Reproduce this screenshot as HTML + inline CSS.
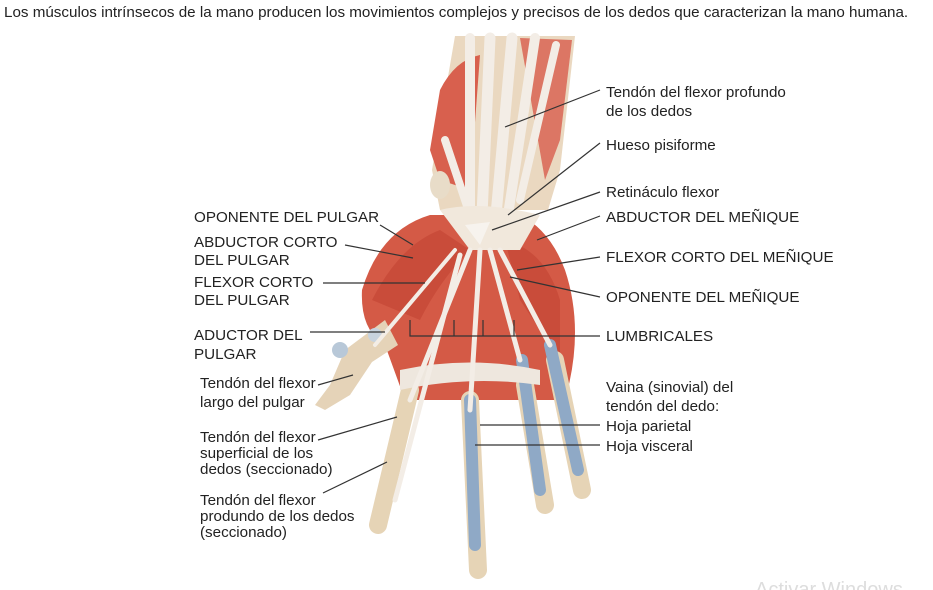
<!DOCTYPE html>
<html><head><meta charset="utf-8"><style>
body{margin:0;background:#fff;}
svg{display:block;font-family:"Liberation Sans",sans-serif;}
text{fill:#222;font-size:15.2px;}
</style></head><body>
<svg width="933" height="590" viewBox="0 0 933 590">
<text x="4" y="17" style="font-size:15.2px">Los músculos intrínsecos de la mano producen los movimientos complejos y precisos de los dedos que caracterizan la mano humana.</text>
<!-- forearm -->
<path d="M455 36 L575 36 L560 170 L548 210 L440 210 L432 170 Z" fill="#ead8c0"/>
<path d="M440 90 Q455 60 480 55 L470 190 L440 180 L430 150 Z" fill="#d8604e"/>
<path d="M520 38 L572 40 L560 140 L545 180 Z" fill="#dc7664"/>
<g stroke="#f3ede6" stroke-linecap="round">
<line x1="470" y1="38" x2="470" y2="215" stroke-width="10"/>
<line x1="490" y1="38" x2="482" y2="215" stroke-width="11"/>
<line x1="512" y1="38" x2="496" y2="215" stroke-width="11"/>
<line x1="535" y1="38" x2="508" y2="215" stroke-width="10"/>
<line x1="556" y1="45" x2="520" y2="200" stroke-width="8"/>
<line x1="445" y1="140" x2="470" y2="215" stroke-width="8"/>
</g>
<ellipse cx="440" cy="185" rx="10" ry="14" fill="#e8dcc8"/>
<!-- palm muscles -->
<path d="M430 215 Q380 230 362 290 Q360 330 385 345 L405 400 L565 400 Q585 330 565 270 Q550 230 520 215 Z" fill="#d45a46"/>
<path d="M440 230 Q400 245 372 300 L420 320 Q440 280 470 250 Z" fill="#c94c3a"/>
<path d="M505 240 Q545 250 560 300 L560 360 L520 300 Z" fill="#c94c3a"/>
<path d="M440 210 Q480 200 540 215 L520 250 L470 250 Z" fill="#f1e8dc"/>
<!-- thumb -->
<path d="M385 320 L345 350 L330 385 L315 405 L325 410 L350 395 L372 362 L398 345 Z" fill="#e5d3b8"/>
<circle cx="340" cy="350" r="8" fill="#b8c8d8"/>
<circle cx="375" cy="335" r="7" fill="#c8d3de"/>
<!-- fingers bones -->
<g stroke="#e6d4b6" stroke-linecap="round" stroke-width="18">
<line x1="410" y1="390" x2="378" y2="525"/>
<line x1="470" y1="400" x2="478" y2="570"/>
<line x1="525" y1="385" x2="545" y2="505"/>
<line x1="555" y1="360" x2="582" y2="490"/>
</g>
<g stroke="#8fa9c6" stroke-linecap="round" stroke-width="12">
<line x1="470" y1="400" x2="475" y2="545"/>
<line x1="522" y1="360" x2="540" y2="490"/>
<line x1="550" y1="345" x2="578" y2="470"/>
</g>
<path d="M400 370 Q470 355 540 370 L540 385 Q470 375 400 390 Z" fill="#eee7de"/>
<!-- palm tendons -->
<g stroke="#f3ede6" stroke-linecap="round" stroke-width="5">
<line x1="470" y1="250" x2="410" y2="400"/>
<line x1="480" y1="250" x2="470" y2="410"/>
<line x1="490" y1="250" x2="520" y2="360"/>
<line x1="500" y1="250" x2="550" y2="345"/>
<line x1="460" y1="255" x2="395" y2="500"/>
<line x1="455" y1="250" x2="375" y2="345" stroke-width="4"/>
</g>
<path d="M465 225 L490 222 L480 245 Z" fill="#f7f3ee"/>
<!-- leader lines -->
<g stroke="#333" stroke-width="1.2" fill="none">
<line x1="505" y1="127" x2="600" y2="90"/>
<line x1="508" y1="215" x2="600" y2="143"/>
<line x1="492" y1="230" x2="600" y2="192"/>
<line x1="537" y1="240" x2="600" y2="216"/>
<line x1="517" y1="270" x2="600" y2="257"/>
<line x1="510" y1="277" x2="600" y2="297"/>
<line x1="380" y1="225" x2="413" y2="245"/>
<line x1="345" y1="245" x2="413" y2="258"/>
<line x1="323" y1="283" x2="425" y2="283"/>
<line x1="310" y1="332" x2="385" y2="332"/>
<polyline points="410,320 410,336 600,336"/>
<line x1="454" y1="320" x2="454" y2="336"/>
<line x1="483" y1="320" x2="483" y2="336"/>
<line x1="514" y1="320" x2="514" y2="336"/>
<line x1="318" y1="385" x2="353" y2="375"/>
<line x1="318" y1="440" x2="397" y2="417"/>
<line x1="323" y1="493" x2="387" y2="462"/>
<line x1="480" y1="425" x2="600" y2="425"/>
<line x1="475" y1="445" x2="600" y2="445"/>
</g>
<text x="606" y="97">Tendón del flexor profundo</text>
<text x="606" y="116">de los dedos</text>
<text x="606" y="150">Hueso pisiforme</text>
<text x="606" y="197">Retináculo flexor</text>
<text x="606" y="222">ABDUCTOR DEL MEÑIQUE</text>
<text x="606" y="262">FLEXOR CORTO DEL MEÑIQUE</text>
<text x="606" y="302">OPONENTE DEL MEÑIQUE</text>
<text x="606" y="341">LUMBRICALES</text>
<text x="606" y="392">Vaina (sinovial) del</text>
<text x="606" y="411">tendón del dedo:</text>
<text x="606" y="431">Hoja parietal</text>
<text x="606" y="451">Hoja visceral</text>
<text x="194" y="222">OPONENTE DEL PULGAR</text>
<text x="194" y="247">ABDUCTOR CORTO</text>
<text x="194" y="265">DEL PULGAR</text>
<text x="194" y="287">FLEXOR CORTO</text>
<text x="194" y="305">DEL PULGAR</text>
<text x="194" y="340">ADUCTOR DEL</text>
<text x="194" y="359">PULGAR</text>
<text x="200" y="388">Tendón del flexor</text>
<text x="200" y="407">largo del pulgar</text>
<text x="200" y="442">Tendón del flexor</text>
<text x="200" y="458">superficial de los</text>
<text x="200" y="474">dedos (seccionado)</text>
<text x="200" y="505">Tendón del flexor</text>
<text x="200" y="521">produndo de los dedos</text>
<text x="200" y="537">(seccionado)</text>
<text x="755" y="596" style="font-size:20px;fill:#ddd">Activar Windows</text>
</svg>
</body></html>
